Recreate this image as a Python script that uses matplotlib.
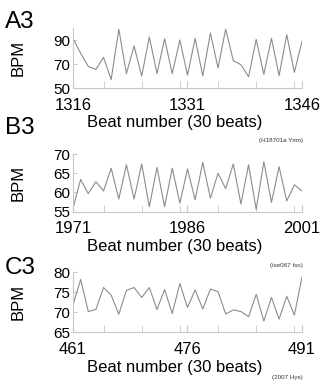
import matplotlib
matplotlib.use('Agg')
import matplotlib.pyplot as plt
from matplotlib.ticker import MultipleLocator

plt.rcParams['font.family'] = ['Liberation Sans', 'DejaVu Sans']

# panel A3 (H18701a Ymn)
beats_a = list(range(1316, 1347))
bpm_a = [91, 79, 68, 65.5, 75.5, 57, 99, 62, 85, 60, 92.5, 62, 91, 62, 90, 60.7,
         91.4, 60, 95.8, 66.7, 99, 72.8, 69.4, 59.4, 90.5, 61.4, 91.4, 60.3, 94.4, 63, 89]

# panel B3 (ise067 Iso)
beats_b = list(range(1971, 2002))
bpm_b = [55.9, 63.4, 59.7, 62.8, 60.4, 66.3, 58.3, 67.2, 58.3, 67.4, 56.3, 66.5, 56.3, 66.3, 57.2,
         66.1, 58.1, 67.8, 58.5, 65, 61, 67.4, 57, 67.2, 55.6, 68, 57.4, 66.7, 57.8, 62, 60.4]

# panel C3 (2007 Hys)
beats_c = list(range(461, 492))
bpm_c = [71.8, 78.2, 70.2, 70.7, 76.2, 74.3, 69.5, 75.5, 76.2, 73.7, 76.2, 70.7, 75.7, 69.7, 77.2,
         71.2, 75.6, 70.8, 75.8, 75.2, 69.6, 70.6, 70.2, 68.9, 74.5, 67.8, 73.7, 68.3, 74, 69.3, 78.8]

panels = [
    ('A3', beats_a, bpm_a, (50, 100), [50, 70, 90], '(H18701a Ymn)'),
    ('B3', beats_b, bpm_b, (55, 70), [55, 60, 65, 70], '(ise067 Iso)'),
    ('C3', beats_c, bpm_c, (65, 80), [65, 70, 75, 80], '(2007 Hys)'),
]
# axes boxes in pixels: left, top, right, bottom
boxes = [(73, 28, 302, 88), (73, 154, 302, 211.7), (73, 272.3, 302, 332.3)]
letter_y = [22, 128, 268]
note_y = [140, 265, 377]

W, H = 323, 388
fig = plt.figure(figsize=(W / 100, H / 100), dpi=100)


def fx(x):
    return x / W


def fy(y):
    return 1 - y / H


for (name, x, y, ylim, yticks, note), (l, t, r, b), ly, ny in zip(panels, boxes, letter_y, note_y):
    ax = fig.add_axes([fx(l), fy(b), (r - l) / W, (b - t) / H])
    ax.plot(x, y, color='#8c8c8c', lw=0.8)
    ax.set_xlim(x[0], x[-1])
    ax.set_ylim(*ylim)
    ax.set_yticks(yticks)
    ax.set_xticks([x[0], x[15], x[-1]])
    ax.xaxis.set_minor_locator(MultipleLocator(5))
    for s in ['top', 'right']:
        ax.spines[s].set_visible(False)
    for s in ['left', 'bottom']:
        ax.spines[s].set_color('#c8c8c8')
        ax.spines[s].set_linewidth(0.8)
    ax.tick_params(axis='x', which='both', direction='in', length=5, color='#c8c8c8',
                   labelsize=12, pad=7)
    ax.tick_params(axis='y', direction='in', length=3, color='#c8c8c8', labelsize=11, pad=2)
    fig.text(fx(5), fy(ly), name, fontsize=17.5, va='center', ha='left')
    fig.text(fx(18), fy((t + b) / 2), 'BPM', fontsize=12, rotation=90, va='center', ha='center')
    fig.text(fx(175), fy(b + 35), 'Beat number (30 beats)', fontsize=12, va='center', ha='center')
    fig.text(fx(303), fy(ny), note, fontsize=4.5, va='center', ha='right', color='#333333')

fig.savefig('out.png', dpi=100)
